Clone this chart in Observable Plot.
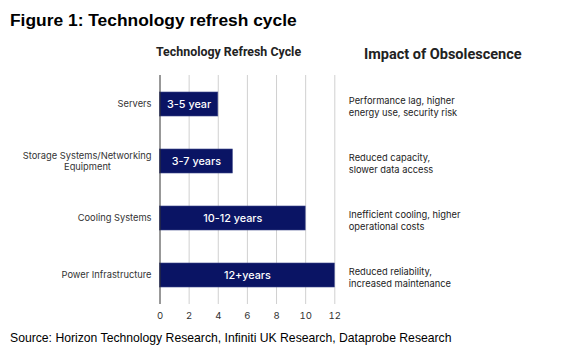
<!DOCTYPE html>
<html><head><meta charset="utf-8">
<script src="https://cdn.jsdelivr.net/npm/d3@7"></script>
<script src="https://cdn.jsdelivr.net/npm/@observablehq/plot@0.6"></script>
<style>
body{margin:0;background:#fff;}
#wrap{position:relative;width:565px;height:360px;overflow:hidden;background:#fff;}
#title{position:absolute;left:10px;top:10px;font:bold 17.4px "Liberation Sans",Arial,sans-serif;color:#000;white-space:nowrap;}
.h{position:absolute;white-space:nowrap;font-family:Roboto,"Liberation Sans",sans-serif;font-weight:bold;color:#222;}
#h1{left:156px;top:44px;font-size:12.4px;}
#h2{left:364px;top:46px;font-size:14.5px;}
#chart{position:absolute;left:0;top:40px;}
#src{position:absolute;left:10px;top:331px;font:12.2px "Liberation Sans",Arial,sans-serif;color:#000;white-space:nowrap;}
</style>
</head><body>
<div id="wrap">
  <div id="title">Figure 1: Technology refresh cycle</div>
  <div class="h" id="h1">Technology Refresh Cycle</div>
  <div class="h" id="h2">Impact of Obsolescence</div>
  <div id="chart"></div>
  <div id="src">Source: Horizon Technology Research, Infiniti UK Research, Dataprobe Research</div>
</div>
<script>
const categories = ["Servers", "Storage Systems/Networking Equipment", "Cooling Systems", "Power Infrastructure"];
const labelLine1 = ["Servers", "Storage Systems/Networking", "Cooling Systems", "Power Infrastructure"];
const labelLine2 = ["", "Equipment", "", ""];
const refreshYears = [4, 5, 10, 12];
const barLabels = ["3-5 year", "3-7 years", "10-12 years", "12+years"];
const impacts = [
  "Performance lag, higher\nenergy use, security risk",
  "Reduced capacity,\nslower data access",
  "Inefficient cooling, higher\noperational costs",
  "Reduced reliability,\nincreased maintenance"
];
const xTicks = [0, 2, 4, 6, 8, 10, 12];

const rows = categories.map((c, i) => ({
  cat: c, years: refreshYears[i], label: barLabels[i], impact: impacts[i],
  l1: labelLine1[i], l2: labelLine2[i]
}));
const single = rows.filter(d => !d.l2);
const dbl = rows.filter(d => d.l2);

const navy = "#0a1464";
const chartFont = "Inter, 'Noto Sans', sans-serif";

const plot = Plot.plot({
  width: 565,
  height: 290,
  marginLeft: 159.5,
  marginRight: 230.7,
  marginTop: 35,
  marginBottom: 26,
  style: {fontFamily: chartFont, fontSize: "10px", color: "#333", background: "transparent"},
  x: {domain: [0, 12], ticks: xTicks, tickSize: 0, tickPadding: 8, label: null, grid: false},
  y: {domain: categories, paddingInner: 0.58, paddingOuter: 0.29, axis: null},
  marks: [
    Plot.gridX(xTicks.filter(t => t > 0), {stroke: "#d0d0d0", strokeOpacity: 1, strokeWidth: 1}),
    Plot.axisX({ticks: xTicks, tickSize: 0, tickPadding: 8, label: null, fill: "#333", fontSize: 9.6}),
    Plot.barX(rows, {y: "cat", x: "years", fill: navy, stroke: "#3a4488", strokeWidth: 0.6}),
    Plot.ruleX([0], {stroke: "#333", strokeWidth: 1}),
    Plot.text(rows, {y: "cat", x: d => d.years / 2, text: "label", fill: "white", fontSize: 10.8, fontWeight: 500}),
    Plot.text(single, {y: "cat", x: 0, text: "l1", textAnchor: "end", dx: -8.5, fill: "#333", fontSize: 9.3}),
    Plot.text(dbl, {y: "cat", x: 0, text: "l1", textAnchor: "end", dx: -8.5, dy: -5.5, fill: "#333", fontSize: 9.3}),
    Plot.text(dbl, {y: "cat", x: 0, text: "l2", textAnchor: "middle", dx: -72.5, dy: 5.5, fill: "#333", fontSize: 9.3}),
    Plot.text(rows, {y: "cat", x: 12, text: "impact", textAnchor: "start", dx: 14, dy: 1.5, lineHeight: 1.25, fill: "#222", fontSize: 9.3})
  ]
});
document.getElementById("chart").appendChild(plot);
</script>
</body></html>
